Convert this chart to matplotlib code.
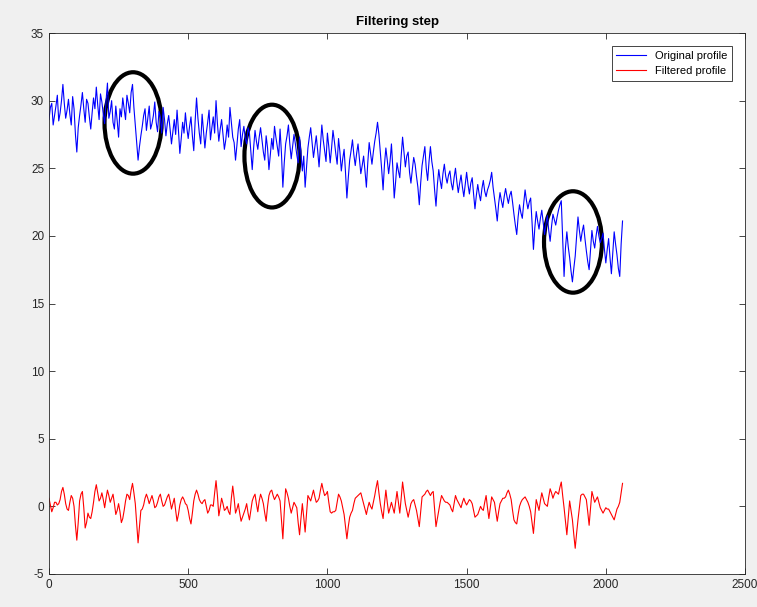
import numpy as np
import matplotlib.pyplot as plt
from matplotlib.patches import Ellipse

plt.rcParams['font.family'] = ['Liberation Sans', 'DejaVu Sans']
plt.rcParams['axes.unicode_minus'] = False

step = 5  # sample spacing along the profile

original = [
    28.6, 29.5, 29.8, 28.2, 28.9, 29.6, 30.4, 28.5, 29.1, 30.0, 31.2, 29.8,
    28.7, 29.3, 30.1, 29.0, 28.2, 30.3, 29.4, 27.5, 26.2,
    28.0, 28.9, 29.7, 30.6, 29.4, 28.4, 30.1, 29.8, 28.8, 27.9, 29.1, 30.2,
    29.4, 31.0, 29.7, 28.6, 30.5, 29.9, 29.0, 28.3, 30.0, 31.3,
    28.7, 29.2, 30.0, 28.4, 27.9, 29.6, 28.5, 27.3, 29.4, 28.8, 30.2, 29.4,
    28.6, 30.4, 29.8, 29.1, 30.6, 31.2, 29.5, 28.2, 27.0, 25.6,
    26.6, 27.4, 28.1, 28.9, 29.4, 27.8, 28.7, 29.6, 27.9, 28.3, 28.9, 29.9,
    28.4, 27.7, 29.2, 28.8, 27.6, 29.5, 28.6, 27.4, 28.3, 28.9,
    27.9, 26.8, 27.7, 28.6, 27.5, 29.3, 27.8, 26.1, 27.2, 28.4, 27.6, 29.1,
    28.0, 27.2,
    28.1, 28.8, 27.4, 26.3, 28.5, 30.2, 28.7, 27.6, 26.8, 29.0, 27.7, 26.5,
    27.6, 28.4, 29.3, 27.1, 28.0, 28.8, 27.6, 30.0, 28.3, 27.0,
    27.9, 28.6, 27.5, 26.4, 27.1, 28.2, 27.3, 29.5, 28.4, 27.3, 26.9, 25.6,
    26.7, 27.9, 28.6, 26.6, 27.5, 28.1, 27.2, 26.8, 28.0, 27.6,
    26.3, 24.9, 26.5, 27.8, 27.0, 26.4, 27.3, 28.0, 27.1, 26.2, 25.6, 27.4,
    26.5, 24.9, 26.0, 27.2, 26.4, 28.1, 27.3, 26.6, 25.9, 27.9,
    26.1, 23.6, 25.4, 26.8, 27.4, 28.2, 26.8, 25.7, 26.6, 27.5, 26.8, 26.0,
    25.4, 27.3, 26.1, 24.8, 25.9, 23.6, 25.0, 26.5, 27.3, 28.0,
    26.9, 25.8, 26.6, 27.4, 26.3, 25.1, 26.7, 28.2, 27.1, 26.3, 25.5, 27.6,
    26.6, 25.4, 26.5, 27.8, 27.0, 26.1, 25.3, 27.2, 26.2, 24.8, 25.7, 26.4,
    24.7, 22.8, 24.3, 25.6, 26.3, 27.1, 26.0, 25.2, 26.1, 26.8,
    25.7, 24.6, 25.2, 25.9, 24.8, 23.6, 25.4, 26.9, 26.1, 25.3, 26.2, 27.0,
    27.6, 28.4, 27.5, 26.2, 24.9, 23.4, 25.3, 26.5, 25.6, 24.6,
    25.5, 26.8, 25.0, 22.8, 24.0, 25.4, 24.8, 24.3, 25.9, 27.3, 26.2, 25.1,
    25.9, 26.2, 24.7, 23.9, 24.9, 25.8, 25.3, 24.4, 23.6, 22.3,
    23.9, 25.2, 25.9, 26.6, 25.0, 24.1, 25.5, 26.6, 25.5, 24.8, 23.4, 22.2,
    23.8, 24.9, 24.1, 23.5, 24.6, 25.3, 24.4, 23.9, 24.5, 24.8,
    23.9, 23.4, 24.3, 25.0, 24.0, 23.2, 23.9, 24.5, 23.6, 22.9, 23.8, 24.7,
    23.8, 23.1, 23.9, 24.3, 23.1, 22.0,
    23.0, 23.8, 23.1, 22.6, 23.5, 24.1, 23.3, 22.9, 23.4, 23.7, 24.1, 24.7,
    23.6, 22.8, 22.0, 21.1, 22.4, 23.2, 22.6, 22.1, 22.9, 23.5,
    22.9, 22.4, 23.0, 23.3, 22.5, 21.6, 20.8, 20.1, 21.4, 22.3, 21.7, 21.3,
    22.4, 23.4, 22.6, 22.0, 22.5, 22.8, 21.0, 19.0, 20.6, 21.8,
    21.1, 20.5, 21.3, 21.9, 21.0, 20.1, 20.9, 21.5, 20.4, 19.6, 20.7, 21.6,
    21.2, 20.8, 21.4, 21.9, 22.3, 22.6, 19.8, 17.0, 19.1, 20.3,
    19.2, 18.4, 17.4, 16.6, 17.6, 18.5, 20.0, 21.4, 20.4, 19.6, 20.3, 20.8,
    19.8, 18.9, 18.1, 17.5, 19.0, 20.4, 19.6, 19.1, 20.0, 20.7,
    20.0, 19.5, 19.8, 20.2, 19.0, 18.0, 19.0, 19.8, 18.4, 17.2, 18.8, 20.3,
    19.4, 18.6, 17.6, 17.0, 19.4, 21.1,
]

filtered = [
    0.6, 0.1, -0.4, -0.1, 0.3, 0.3, 0.1, 0.2, 0.5, 1.1, 1.4, 0.9, 0.2, -0.2,
    -0.3, 0.3, 0.8, 0.6, 0.0, -1.4, -2.5,
    -1.2, 0.4, 0.9, 1.1, -0.1, -1.6, -1.2, -0.5, -0.8, -0.9, -0.4, 0.3, 1.1,
    1.6, 1.0, 0.4, 0.6, 1.0, 0.5, -0.1, 0.6, 1.2,
    0.8, 0.3, 0.6, 0.9, 0.2, -0.6, -0.3, 0.2, -0.4, -1.2, -0.9, -0.3, 0.4,
    0.9, 0.8, 0.5, 1.2, 1.7, 1.0, 0.2, -1.3, -2.7,
    -1.5, -0.3, -0.2, 0.1, 0.6, 0.9, 0.6, 0.2, 0.5, 0.8, 0.4, -0.1, 0.0, 0.3,
    0.7, 0.9, 0.4, 0.0, 0.1, 0.4, 0.7, 0.9,
    0.4, -0.2, 0.2, 0.6, -0.3, -1.1, -0.6, 0.1, 0.5, 0.7, 0.5, 0.2, 0.1,
    -0.3, -0.9, -1.3, -0.5, 0.4, 0.9, 1.2, 0.9, 0.5, 0.3, 0.2, 0.4, 0.5, 0.0,
    -0.5, -0.3, 0.1, 0.1, 0.0, 1.0, 1.9, 0.8,
    -0.7, -0.1, 0.6, 0.2, -0.3, -0.2, 0.0, -0.4, -0.6, 0.6, 1.5, 0.6, -0.5,
    -0.2, 0.2, -0.5, -1.1, -0.8, -0.5, -0.2, 0.2, -0.5,
    -1.0, -0.3, 0.4, 0.7, 0.9, 0.2, -0.4, 0.4, 0.9, 0.6, 0.2, -0.5, -1.1,
    0.0, 0.8, 1.1, 1.2, 0.8, 0.5, 0.7, 0.9, 0.7,
    0.4, -1.0, -2.4, -0.4, 1.3, 1.0, 0.6, 0.0, -0.5, -0.1, 0.3, 0.1, -0.1,
    -1.2, -2.1, -0.9, 0.2, -0.8, -1.9, -0.5, 0.8, 0.6,
    0.4, 0.8, 1.2, 0.7, 0.3, 0.4, 0.6, 1.2, 1.7, 1.2, 0.8, 0.9, 1.1, 0.3, -0.4,
    -0.5, -0.4, -0.4, -0.3, 0.3, 0.9, 0.7, 0.4, -0.1, -0.6, -1.5, -2.4, -1.5,
    -0.8, -0.5, -0.3, 0.2, 0.6, 0.7, 0.8, 0.9, 1.0, 0.6,
    0.2, -0.2, -0.6, -0.1, 0.3, 0.0, -0.2, 0.3, 0.8, 1.4, 1.9, 1.0, 0.2, -0.4,
    -0.9, 0.2, 1.2, 0.3, -0.5, -0.1, 0.3, -0.1,
    -0.5, 0.3, 1.1, 0.3, -0.5, 0.6, 1.8, 1.0, 0.2, -0.3, -0.8, -0.3, 0.2, 0.4,
    0.5, 0.1, -0.3, -0.9, -1.5, -0.4, 0.7, 0.8,
    0.9, 1.1, 1.2, 1.0, 0.8, 1.0, 1.1, -0.2, -1.5, -0.9, -0.3, 0.3, 0.8, 0.6,
    0.4, 0.3, 0.3, 0.2, 0.1, -0.2, -0.4, 0.2,
    0.8, 0.5, 0.3, 0.1, -0.1, 0.3, 0.6, 0.3, 0.1, 0.3, 0.5, 0.4, 0.2, -0.3,
    -0.8,
    -0.7, -0.6, -0.3, 0.0, -0.2, -0.3, 0.3, 0.8, -0.1, -0.9, -0.1, 0.7, 0.5,
    0.3, -0.4, -1.1, -0.4, 0.2, 0.4, 0.6, 0.6,
    0.7, 1.0, 1.2, 0.9, 0.5, -0.3, -1.0, -1.2, -1.3, -0.6, 0.0, 0.3, 0.5, 0.6,
    0.7, 0.5, 0.3, 0.0, -0.4, -1.2, -2.0, -0.7,
    0.5, 0.1, -0.3, 0.4, 1.0, 0.6, 0.2, 0.1, 0.0, 0.7, 1.3, 1.0, 0.6, 0.9,
    1.1, 1.0, 0.9, 1.4, 1.8, 0.8, -0.1, -1.1,
    -2.1, -0.8, 0.4, -0.3, -1.0, -2.1, -3.1, -2.0, -1.0, -0.1, 0.8, 0.9, 0.9,
    0.7, 0.5, -0.4, -1.4, -0.1, 1.1, 0.7, 0.3, 0.5,
    0.7, 0.3, -0.1, -0.3, -0.5, -0.3, -0.1, -0.2, -0.2, -0.4, -0.6, -0.8,
    -1.0, -0.6, -0.2, 0.0, 0.3, 1.0, 1.7,
]

# highlighted regions: (centre x, centre y, width, height)
regions = [
    (302, 28.35, 205, 7.5),
    (801, 25.9, 198, 7.6),
    (1882, 19.55, 208, 7.5),
]

fig = plt.figure(figsize=(7.57, 6.07), dpi=100, facecolor='#f0f0f0')
ax = fig.add_axes([0.0647, 0.0544, 0.9195, 0.8912])

x_orig = np.arange(len(original)) * step
x_filt = np.arange(len(filtered)) * step
ax.plot(x_orig, original, color='#0000ff', lw=0.8, label='Original profile')
ax.plot(x_filt, filtered, color='#ff0000', lw=0.8, label='Filtered profile')

for cx, cy, w, h in regions:
    ax.add_patch(Ellipse((cx, cy), w, h, fill=False, edgecolor='black', lw=3))

ax.set_xlim(0, 2500)
ax.set_ylim(-5, 35)
ax.set_xticks(range(0, 2501, 500))
ax.set_yticks(range(-5, 36, 5))
ax.tick_params(direction='in', top=True, right=True, labelsize=8.5,
               colors='#262626', length=4, width=0.6)
for s in ax.spines.values():
    s.set_color('#262626')
    s.set_linewidth(0.6)

ax.set_title('Filtering step', fontsize=9.5, fontweight='bold', pad=6)
leg = ax.legend(loc='upper right', fontsize=8, handlelength=2.7,
                fancybox=False, edgecolor='#262626', framealpha=1,
                borderaxespad=1.2)
leg.get_frame().set_linewidth(0.6)

fig.savefig('out.png', dpi=100, facecolor=fig.get_facecolor())
